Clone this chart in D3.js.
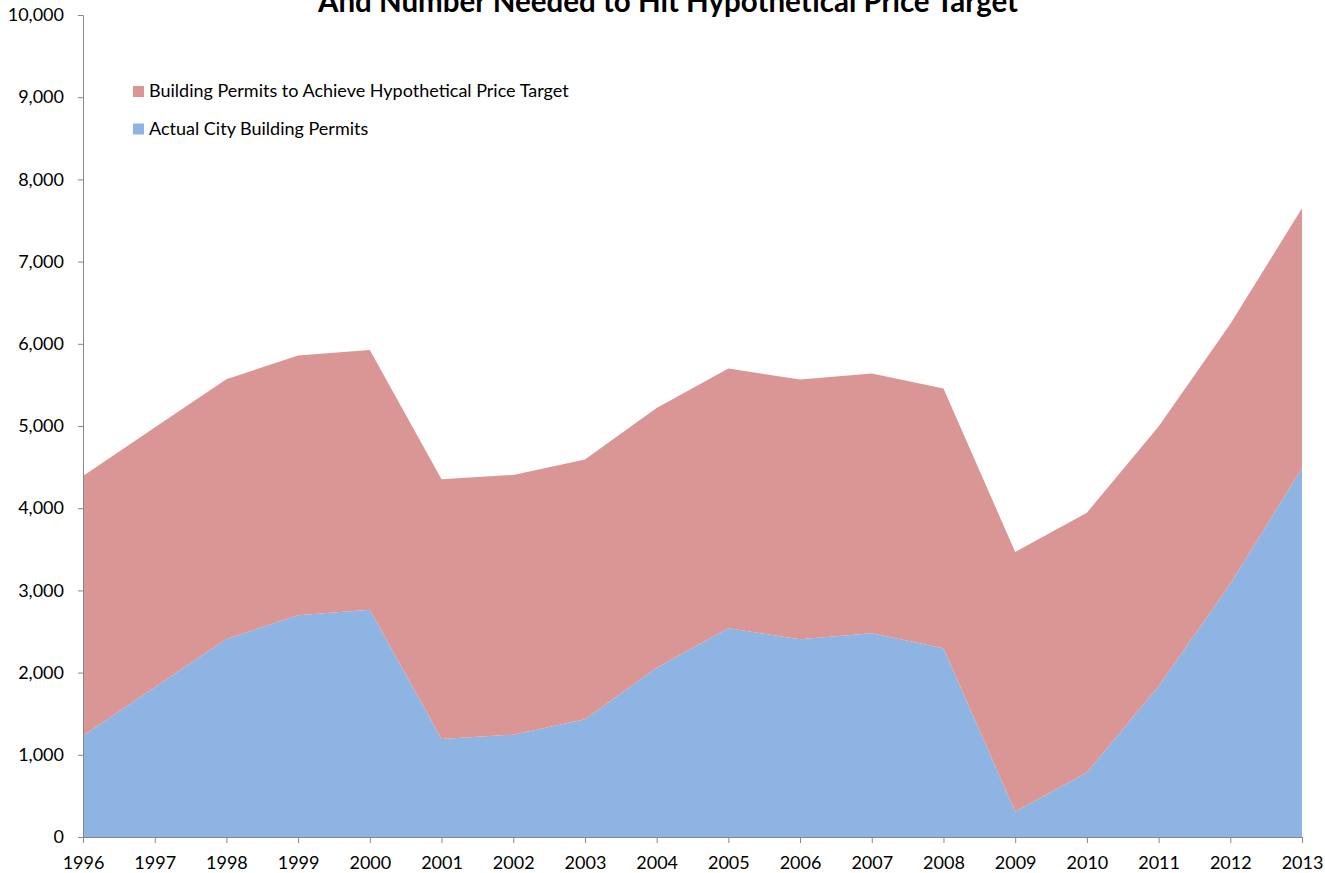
<!DOCTYPE html>
<html>
<head>
<meta charset="utf-8">
<script src="https://cdn.jsdelivr.net/npm/d3@7"></script>
<style>
  body { margin: 0; background: #fff; }
  svg { display: block; font-family: Lato, "Open Sans", sans-serif; }
</style>
</head>
<body>
<svg id="chart" width="1325" height="873"></svg>
<script>
// values
const years = [1996, 1997, 1998, 1999, 2000, 2001, 2002, 2003, 2004, 2005, 2006, 2007, 2008, 2009, 2010, 2011, 2012, 2013];
const actualPermits = [1232, 1821, 2409, 2697, 2765, 1192, 1245, 1432, 2060, 2539, 2405, 2478, 2296, 308, 785, 1835, 3080, 4488];
const targetPermits = [3160, 3160, 3160, 3160, 3160, 3160, 3160, 3160, 3160, 3160, 3160, 3160, 3160, 3160, 3160, 3160, 3160, 3160];
const yTicks = [0, 1000, 2000, 3000, 4000, 5000, 6000, 7000, 8000, 9000, 10000];
const seriesNames = ["Building Permits to Achieve Hypothetical Price Target", "Actual City Building Permits"];
const titleLine = "And Number Needed to Hit Hypothetical Price Target";

const colors = { actual: "#8EB4E3", target: "#D99694" };

const svg = d3.select("#chart");
const margin = { left: 83, right: 23, top: 15, bottom: 36 };
const width = 1325, height = 873;

const x = d3.scaleLinear()
    .domain([years[0], years[years.length - 1]])
    .range([margin.left, width - margin.right]);
const y = d3.scaleLinear()
    .domain([0, 10000])
    .range([height - margin.bottom, margin.top]);

const rows = years.map((yr, i) => ({ year: yr, actual: actualPermits[i], target: targetPermits[i] }));
const stacked = d3.stack().keys(["actual", "target"])(rows);

const area = d3.area()
    .x(d => x(d.data.year))
    .y0(d => y(d[0]))
    .y1(d => y(d[1]));

svg.append("g")
    .selectAll("path")
    .data(stacked)
    .join("path")
    .attr("d", area)
    .attr("fill", d => colors[d.key]);

// y axis
const yAxis = svg.append("g")
    .attr("transform", `translate(${margin.left},0)`)
    .call(d3.axisLeft(y).tickValues(yTicks).tickSize(5).tickPadding(14).tickFormat(d3.format(",")));
yAxis.select(".domain").attr("stroke", "#868686");
yAxis.selectAll(".tick line").attr("stroke", "#868686");
yAxis.selectAll("text").attr("font-size", 18).attr("fill", "#000").attr("font-family", "Lato, sans-serif");

// x axis
const xAxis = svg.append("g")
    .attr("transform", `translate(0,${y(0)})`)
    .call(d3.axisBottom(x).tickValues(years).tickSize(6).tickPadding(13).tickFormat(d3.format("d")));
xAxis.select(".domain").attr("stroke", "#868686");
xAxis.selectAll(".tick line").attr("stroke", "#868686");
xAxis.selectAll("text").attr("font-size", 18).attr("fill", "#000").attr("font-family", "Lato, sans-serif");

// title (first line lies above the visible area)
svg.append("text")
    .attr("x", 668)
    .attr("y", 12)
    .attr("text-anchor", "middle")
    .attr("font-size", 29.5)
    .attr("font-weight", "bold")
    .attr("fill", "#000")
    .text(titleLine);

// legend
const legend = svg.append("g").attr("transform", "translate(133,86)");
const legendItems = [
    { name: seriesNames[0], color: colors.target },
    { name: seriesNames[1], color: colors.actual }
];
legend.selectAll("rect")
    .data(legendItems)
    .join("rect")
    .attr("x", 0)
    .attr("y", (d, i) => i * 37.5)
    .attr("width", 11)
    .attr("height", 11)
    .attr("fill", d => d.color);
legend.selectAll("text")
    .data(legendItems)
    .join("text")
    .attr("x", 16)
    .attr("y", (d, i) => i * 37.5 + 11)
    .attr("font-size", 18)
    .attr("fill", "#000")
    .text(d => d.name);
</script>
</body>
</html>
